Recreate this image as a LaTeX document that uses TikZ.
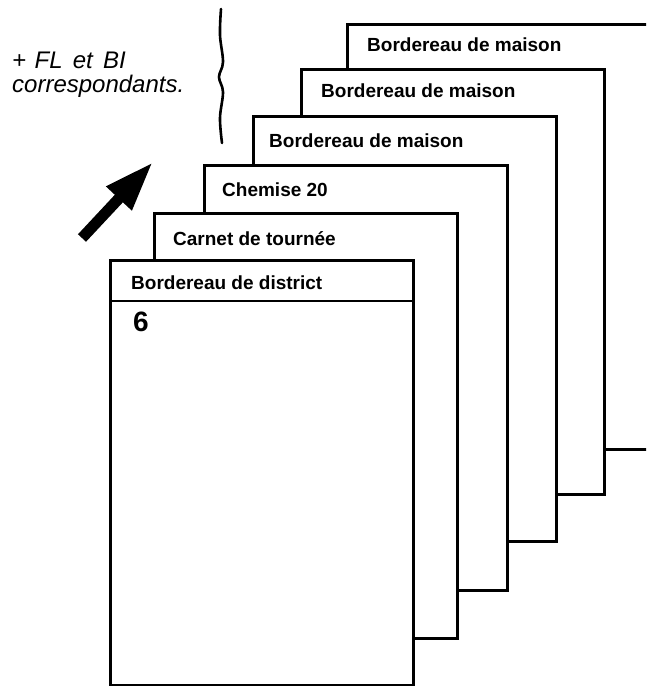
\documentclass[tikz,border=0pt]{standalone}
\usepackage{fontspec}
\setmainfont{Liberation Sans}
\usetikzlibrary{arrows.meta}
\begin{document}
\begin{tikzpicture}[x=1pt,y=-1pt,
  sheet/.style={draw=black, line width=2.5pt, fill=white, rectangle, inner sep=0pt,
                minimum width=303pt, minimum height=425pt, anchor=north west},
  lbl/.style={anchor=base west, inner sep=0pt, font=\fontsize{19}{23}\selectfont\bfseries},
  note/.style={anchor=base west, inner sep=0pt, font=\fontsize{24}{28}\selectfont\itshape}]
\useasboundingbox (0,0) rectangle (646,686);
\clip (0,0) rectangle (646,686);
% sheets, back to front
\node[sheet] (s6) at (346,23) {};
\node[sheet] (s5) at (300,68) {};
\node[sheet] (s4) at (252,115) {};
\node[sheet] (s3) at (203,164) {};
\node[sheet] (s2) at (153,212) {};
\node[sheet] (s1) at (109,259) {};
\coordinate (hl) at (109,301);
\coordinate (hr) at (412,301);
\draw[line width=2.2pt] (hl) -- (hr);
% labels
\node[lbl] (t6) at (367,51) {Bordereau de maison};
\node[lbl] (t5) at (321,97) {Bordereau de maison};
\node[lbl] (t4) at (269,147) {Bordereau de maison};
\node[lbl] (t3) at (222,196) {Chemise 20};
\node[lbl] (t2) at (173,245) {Carnet de tournée};
\node[lbl] (t1) at (131,289) {Bordereau de district};
\node[anchor=base west, inner sep=0pt, font=\fontsize{28}{31}\selectfont\bfseries] (six) at (133,331) {6};
% note
\node[note] (n1) at (12,68) {+\hspace{0.35em}FL\hspace{0.15em} et\hspace{0.15em} BI};
\node[note] (n2) at (12,92) {correspondants.};
% brace
\draw[line width=2.6pt, line cap=round] plot[smooth, tension=0.6] coordinates
  {(221,9) (220,35) (223,62) (219,77) (223,92) (220,118) (222,143)};
% arrow
\coordinate (atail) at (82,238);
\coordinate (ahead) at (153,162);
\draw[line width=11pt, -{Triangle[length=50pt,width=32pt]}] (atail) -- (ahead);
\end{tikzpicture}
\end{document}
